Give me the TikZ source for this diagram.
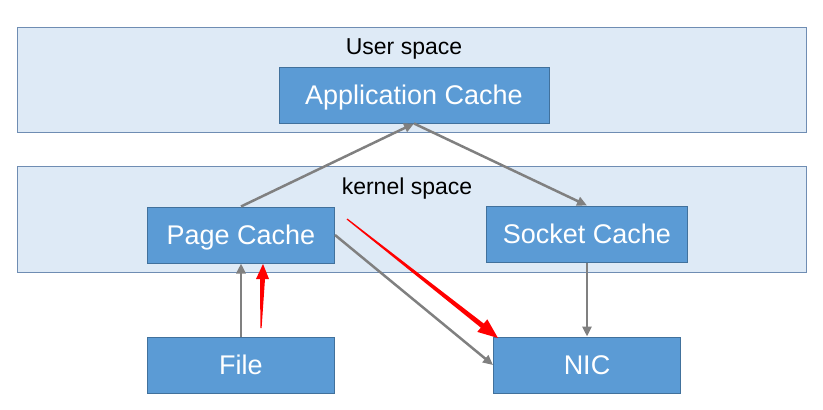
\documentclass[tikz,border=0pt]{standalone}
\usepackage{fontspec}
\setmainfont{Liberation Sans}
\usetikzlibrary{arrows.meta}

\definecolor{boxblue}{HTML}{5B9BD5}
\definecolor{boxedge}{HTML}{41719C}
\definecolor{layerfill}{HTML}{DEEAF6}
\definecolor{layeredge}{HTML}{6F8DB3}
\definecolor{linegray}{HTML}{808080}

\begin{document}
\begin{tikzpicture}[x=1pt,y=-1pt]
            \tikzstyle{layer}=[draw=layeredge,fill=layerfill,line width=1pt]
            \tikzstyle{cache}=[draw=boxedge,fill=boxblue,line width=1pt,text=white,inner sep=0pt,
              font=\fontsize{27}{30}\selectfont,minimum height=56pt,text depth=0pt]
            \tikzstyle{flow}=[draw=linegray,line width=2.5pt,-{Triangle[length=10pt,width=9pt]}]
            \useasboundingbox (0,0) rectangle (823,410);
            \draw [layer] (17,27) rectangle (806,132);
            \draw [layer] (17,166) rectangle (806,272);
            \node [text depth=0pt] (user) at (404,47) {\fontsize{23}{26}\selectfont User space};
            \node [text depth=0pt] (kernel) at (407,186) {\fontsize{23}{26}\selectfont kernel space};
            \node [cache,minimum width=270pt] (app) at (414,95) {Application Cache};
            \node [cache,minimum width=187pt] (page) at (241,235) {Page Cache};
            \node [cache,minimum width=201pt] (socket) at (587,234) {Socket Cache};
            \node [cache,minimum width=187pt] (file) at (241,365) {File};
            \node [cache,minimum width=187pt] (nic) at (587,365) {NIC};
            \draw [flow] (page.north) -- (app.south);
            \draw [flow] (app.south) -- (socket.north);
            \draw [flow] (file.north) -- (page.south);
            \draw [flow] (page.east) -- (nic.west);
            \draw [flow] (socket.south) -- (nic.north);
            \coordinate (readtail) at (261,328);
            \coordinate (readtip) at (263,264);
            \coordinate (sendtail) at (347,219);
            \coordinate (sendtip) at (498,338);
            \fill [red] (readtail) ++(-0.6,0) -- (260,279) -- (256,279) -- (readtip)
              -- (269,279) -- (265,279) -- (261.6,328) -- cycle;
            \fill [red] (346.6,219.5) -- (480.8,327.6) -- (477.3,331.9) -- (sendtip)
              -- (487.3,319.3) -- (483.8,323.6) -- (347.4,218.5) -- cycle;
        \end{tikzpicture}
\end{document}
